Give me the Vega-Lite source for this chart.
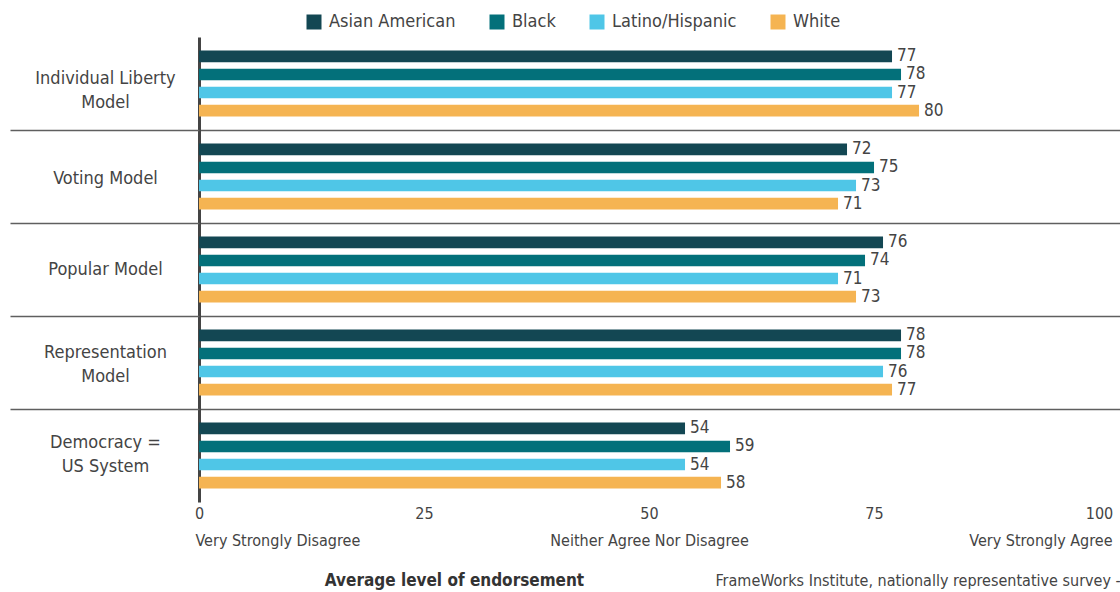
{
  "$schema": "https://vega.github.io/schema/vega-lite/v6.json",
  "width": 921,
  "height": 465,
  "autosize": {"type": "none"},
  "padding": {"left": 199, "top": 37, "right": 0, "bottom": 90},
  "background": "white",
  "config": {"font": "DejaVu Sans Condensed, Roboto, sans-serif", "view": {"stroke": null}},
  "resolve": {"axis": {"x": "independent", "y": "independent"}, "scale": {"x": "shared", "y": "shared"}},
  "data": {
    "values": [
      {"group": "Individual Liberty Model", "race": "Asian American", "value": 77},
      {"group": "Individual Liberty Model", "race": "Black", "value": 78},
      {"group": "Individual Liberty Model", "race": "Latino/Hispanic", "value": 77},
      {"group": "Individual Liberty Model", "race": "White", "value": 80},
      {"group": "Voting Model", "race": "Asian American", "value": 72},
      {"group": "Voting Model", "race": "Black", "value": 75},
      {"group": "Voting Model", "race": "Latino/Hispanic", "value": 73},
      {"group": "Voting Model", "race": "White", "value": 71},
      {"group": "Popular Model", "race": "Asian American", "value": 76},
      {"group": "Popular Model", "race": "Black", "value": 74},
      {"group": "Popular Model", "race": "Latino/Hispanic", "value": 71},
      {"group": "Popular Model", "race": "White", "value": 73},
      {"group": "Representation Model", "race": "Asian American", "value": 78},
      {"group": "Representation Model", "race": "Black", "value": 78},
      {"group": "Representation Model", "race": "Latino/Hispanic", "value": 76},
      {"group": "Representation Model", "race": "White", "value": 77},
      {"group": "Democracy = US System", "race": "Asian American", "value": 54},
      {"group": "Democracy = US System", "race": "Black", "value": 59},
      {"group": "Democracy = US System", "race": "Latino/Hispanic", "value": 54},
      {"group": "Democracy = US System", "race": "White", "value": 58}
    ]
  },
  "layer": [
    {
      "mark": {"type": "bar"},
      "encoding": {
        "y": {
          "field": "group", "type": "nominal",
          "sort": ["Individual Liberty Model", "Voting Model", "Popular Model", "Representation Model", "Democracy = US System"],
          "scale": {"paddingInner": 0, "paddingOuter": 0},
          "axis": {
            "orient": "left", "title": null, "domain": true, "domainColor": "#444444", "domainWidth": 3,
            "ticks": false, "grid": false, "labelAlign": "center", "labelBaseline": "middle", "labelPadding": 94,
            "labelFontSize": 18, "labelColor": "#444444", "labelLineHeight": 24, "labelLimit": 300,
            "labelOffset": {"condition": [
              {"test": "datum.value == 'Individual Liberty Model'", "value": -5},
              {"test": "datum.value == 'Voting Model'", "value": 2},
              {"test": "datum.value == 'Representation Model'", "value": -10},
              {"test": "datum.value == 'Democracy = US System'", "value": -13}
            ], "value": 0},
            "labelExpr": "datum.value == 'Individual Liberty Model' ? ['Individual Liberty', 'Model'] : datum.value == 'Representation Model' ? ['Representation', 'Model'] : datum.value == 'Democracy = US System' ? ['Democracy =', 'US System'] : datum.value"
          }
        },
        "yOffset": {
          "field": "race", "type": "nominal",
          "sort": ["Asian American", "Black", "Latino/Hispanic", "White"],
          "scale": {"paddingInner": 0.36, "paddingOuter": 0.75}
        },
        "x": {
          "field": "value", "type": "quantitative",
          "scale": {"domain": [0, 102.33], "nice": false},
          "axis": {
            "orient": "bottom", "values": [0, 25, 50, 75, 100], "domain": false, "ticks": false, "grid": false,
            "labelFlush": false,
            "labelPadding": 3, "labelFontSize": 16, "labelColor": "#444444",
            "title": "Average level of endorsement", "titleFontSize": 17, "titleFontWeight": "bold", "titleColor": "#333333",
            "titleX": 255, "titleY": 78, "titleAlign": "center", "titleBaseline": "middle", "titleAnchor": null
          }
        },
        "color": {
          "field": "race", "type": "nominal",
          "sort": ["Asian American", "Black", "Latino/Hispanic", "White"],
          "scale": {"domain": ["Asian American", "Black", "Latino/Hispanic", "White"], "range": ["#134753", "#03707a", "#4fc6e7", "#f5b452"]},
          "legend": {
            "orient": "none", "legendX": 106, "legendY": -24, "direction": "horizontal", "title": null,
            "symbolType": "square", "symbolSize": 225, "symbolStrokeWidth": 0, "labelFontSize": 18, "labelColor": "#444444",
            "labelOffset": 6, "columnPadding": 32
          }
        }
      }
    },
    {
      "mark": {"type": "text", "align": "left", "baseline": "middle", "dx": 5, "fontSize": 17, "color": "#444444"},
      "encoding": {
        "y": {
          "field": "group", "type": "nominal",
          "sort": ["Individual Liberty Model", "Voting Model", "Popular Model", "Representation Model", "Democracy = US System"],
          "axis": {
            "orient": "left", "title": null, "domain": false, "labels": false, "bandPosition": 0,
            "values": ["Voting Model", "Popular Model", "Representation Model", "Democracy = US System"],
            "grid": true, "gridColor": "#5f5f5f", "gridWidth": 1.5,
            "ticks": true, "tickSize": 189, "tickColor": "#5f5f5f", "tickWidth": 1.5
          }
        },
        "yOffset": {
          "field": "race", "type": "nominal",
          "sort": ["Asian American", "Black", "Latino/Hispanic", "White"]
        },
        "x": {
          "field": "value", "type": "quantitative",
          "axis": {
            "orient": "bottom", "values": [0, 50, 100], "domain": false, "ticks": false, "grid": false,
            "labelPadding": 30, "labelFontSize": 16, "labelColor": "#444444", "labelLimit": 400, "labelFlush": false,
            "labelExpr": "datum.value == 0 ? 'Very Strongly Disagree' : datum.value == 50 ? 'Neither Agree Nor Disagree' : 'Very Strongly Agree'",
            "labelAlign": {"condition": [{"test": "datum.value == 0", "value": "left"}, {"test": "datum.value == 100", "value": "right"}], "value": "center"},
            "labelOffset": {"condition": [{"test": "datum.value == 0", "value": -4}, {"test": "datum.value == 100", "value": 13}], "value": 0},
            "labelOverlap": false, "labelBound": false,
            "title": "FrameWorks Institute, nationally representative survey -", "titleFontSize": 16, "titleFontWeight": "normal", "titleColor": "#444444",
            "titleX": 516, "titleY": 78, "titleAlign": "left", "titleBaseline": "middle", "titleAnchor": null
          }
        },
        "text": {"field": "value", "type": "quantitative"}
      }
    }
  ]
}
